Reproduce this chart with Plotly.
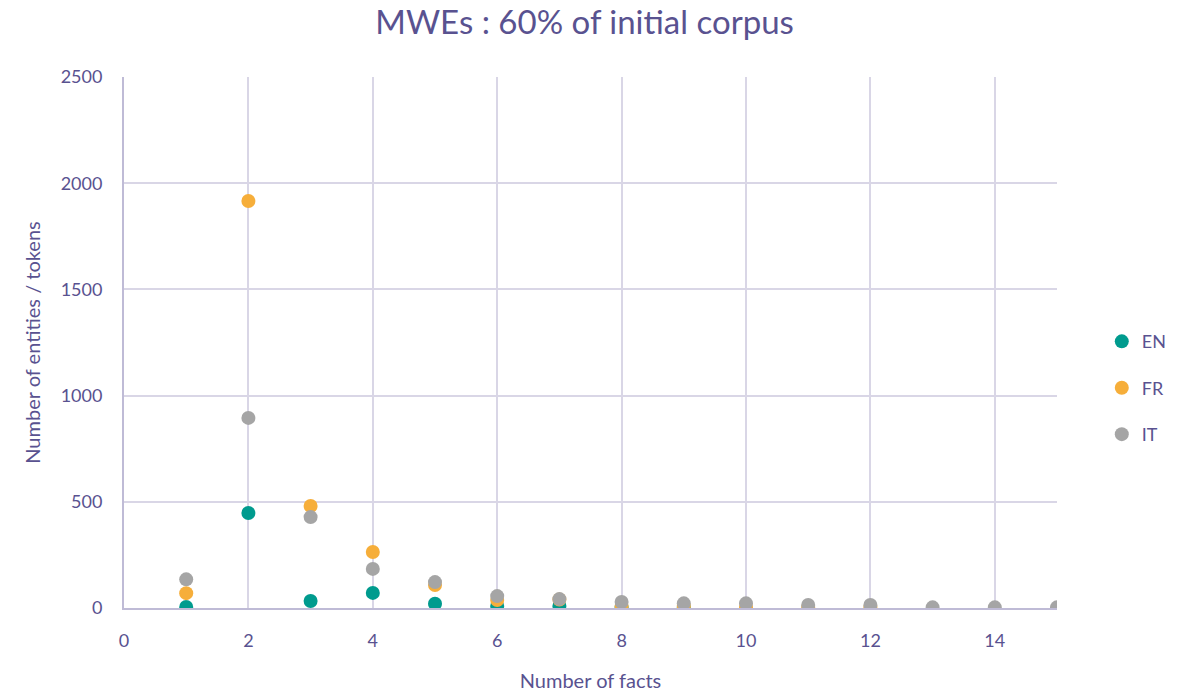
import plotly.graph_objects as go

title = "MWEs : 60% of initial corpus"
x_title = "Number of facts"
y_title = "Number of entities / tokens"

en_x = [1, 2, 3, 4, 5, 6, 7, 8, 9]
en_y = [5, 447, 33, 71, 20, 10, 10, 5, 2]
fr_x = [1, 2, 3, 4, 5, 6, 7, 8, 9, 10, 11, 12]
fr_y = [70, 1916, 480, 264, 108, 38, 40, 10, 8, 5, 3, 3]
it_x = [1, 2, 3, 4, 5, 6, 7, 8, 9, 10, 11, 12, 13, 14, 15]
it_y = [135, 895, 428, 184, 122, 56, 42, 28, 22, 22, 14, 14, 3, 3, 3]

series = [("EN", en_x, en_y, "#009B8E"), ("FR", fr_x, fr_y, "#F6AE3A"), ("IT", it_x, it_y, "#A5A5A5")]

text_color = "#595290"
grid = "#D9D6E6"
font = "Lato"

fig = go.Figure()
for name, xs, ys, c in series:
    fig.add_trace(go.Scatter(x=xs, y=ys, mode="markers", name=name, legendgroup=name,
                             marker=dict(size=14, color=c)))

fig.update_layout(
    width=1181, height=692,
    margin=dict(l=124, r=124, t=77, b=84, autoexpand=False),
    plot_bgcolor="white", paper_bgcolor="white",
    font=dict(family=font, color=text_color, size=18),
    title=dict(text=title, x=0.495, xanchor="center", y=0.967, yanchor="middle",
               font=dict(size=33, color=text_color, family=font)),
    showlegend=True,
    legend=dict(x=1.048, y=0.414, xanchor="left", yanchor="middle", tracegroupgap=20,
                font=dict(size=18, color=text_color), bgcolor="rgba(0,0,0,0)"),
    xaxis=dict(range=[0, 15], dtick=2, tick0=0, showgrid=True, gridcolor=grid, gridwidth=1.5,
               zeroline=False, showline=True, linecolor="#BFBBD6", linewidth=2,
               ticks="outside", ticklen=15, tickcolor="rgba(0,0,0,0)", automargin=False,
               title=dict(text=x_title, font=dict(size=20, color=text_color), standoff=27),
               tickfont=dict(size=18, color=text_color)),
    yaxis=dict(range=[0, 2500], dtick=500, showgrid=True, gridcolor=grid, gridwidth=1.5,
               zeroline=False, showline=True, linecolor="#BFBBD6", linewidth=2,
               ticks="outside", ticklen=16, tickcolor="rgba(0,0,0,0)", automargin=False,
               title=dict(text=y_title, font=dict(size=20, color=text_color), standoff=15),
               tickfont=dict(size=18, color=text_color)),
)

fig.write_html("out.html")
